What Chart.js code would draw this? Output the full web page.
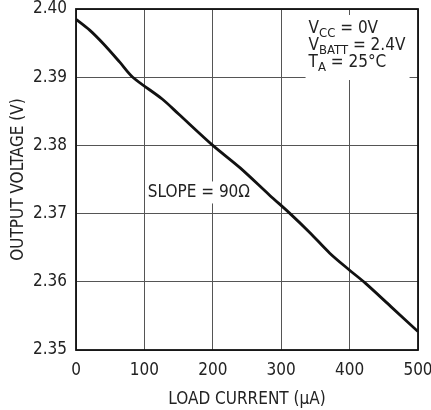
<!DOCTYPE html>
<html>
<head>
<meta charset="utf-8">
<script src="https://cdn.jsdelivr.net/npm/chart.js@4/dist/chart.umd.min.js"></script>
<style>
  html, body { margin: 0; padding: 0; background: #fff; }
  #wrap { width: 431px; height: 410px; }
</style>
</head>
<body>
<div id="wrap"><canvas id="c" width="431" height="410"></canvas></div>
<script>
const FONT = "'Liberation Sans Narrow', 'DejaVu Sans Condensed', 'Liberation Sans', sans-serif";

// values
const loadCurrent = [0, 20, 40, 64, 83, 126, 150, 200, 240, 283, 313, 342, 371, 400, 423, 460, 500];
const outputVolts = [2.3985, 2.3969, 2.3949, 2.3922, 2.3900, 2.3868, 2.3846, 2.3800, 2.3767, 2.3727, 2.3700, 2.3672, 2.3642, 2.3617, 2.3598, 2.3564, 2.3527];
const xTicks = [0, 100, 200, 300, 400, 500];
const yTicks = [2.35, 2.36, 2.37, 2.38, 2.39, 2.40];

// annotation text: [x, y, main, subscript, rest]
const condNotes = [
  [340, 2.3965, "V", "CC", " = 0V"],
  [340, 2.3940, "V", "BATT", " = 2.4V"],
  [340, 2.3915, "T", "A", " = 25°C"],
];
const slopeNote = [105, 2.3731, "SLOPE = 90Ω"];

const fixTicks = (arr) => (scale) => { scale.ticks = arr.map(v => ({ value: v })); };

const notesPlugin = {
  id: "notes",
  beforeDatasetsDraw(chart) {
    const { ctx, scales: { x, y } } = chart;
    ctx.save();
    ctx.textBaseline = "alphabetic";
    const big = "17px " + FONT, small = "13px " + FONT;

    // white box behind conditions block
    const x0 = x.getPixelForValue(condNotes[0][0]);
    ctx.fillStyle = "#fff";
    ctx.fillRect(x0 - 3, 15, 104, 65);

    condNotes.forEach(([vx, vy, main, sub, rest]) => {
      let px = x.getPixelForValue(vx);
      const py = y.getPixelForValue(vy);
      ctx.fillStyle = "#222";
      ctx.font = big;
      ctx.fillText(main, px, py);
      px += ctx.measureText(main).width;
      ctx.font = small;
      ctx.fillText(sub, px, py + 4);
      px += ctx.measureText(sub).width;
      ctx.font = big;
      ctx.fillText(rest, px, py);
    });

    // slope note
    ctx.font = big;
    const sx = x.getPixelForValue(slopeNote[0]);
    const sy = y.getPixelForValue(slopeNote[1]);
    const w = ctx.measureText(slopeNote[2]).width;
    ctx.fillStyle = "#fff";
    ctx.fillRect(sx - 2, sy - 11, w + 4, 22);
    ctx.fillStyle = "#222";
    ctx.textBaseline = "middle";
    ctx.fillText(slopeNote[2], sx, sy);
    ctx.restore();
  },
  afterDatasetsDraw(chart) {
    const { ctx, chartArea: a } = chart;
    ctx.save();
    ctx.strokeStyle = "#111";
    ctx.lineWidth = 1.8;
    ctx.strokeRect(a.left, a.top, a.right - a.left, a.bottom - a.top);
    ctx.restore();
  }
};

new Chart(document.getElementById("c"), {
  type: "line",
  data: {
    datasets: [{
      data: loadCurrent.map((v, i) => ({ x: v, y: outputVolts[i] })),
      borderColor: "#111",
      borderWidth: 2.8,
      pointRadius: 0,
      tension: 0.3,
      fill: false,
    }]
  },
  options: {
    responsive: false,
    animation: false,
    devicePixelRatio: 1,
    layout: { padding: 0 },
    plugins: { legend: { display: false }, tooltip: { enabled: false } },
    scales: {
      x: {
        type: "linear",
        min: 0, max: 500,
        afterBuildTicks: fixTicks(xTicks),
        afterFit: (s) => { s.height = 60; s.paddingLeft = 0; s.paddingRight = 13; },
        grid: { color: "#555", lineWidth: 1, drawTicks: false },
        border: { display: false },
        ticks: { color: "#222", font: { family: FONT, size: 17 }, padding: 10, maxRotation: 0 },
        title: { display: true, text: "LOAD CURRENT (µA)", color: "#222", font: { family: FONT, size: 17 }, padding: { top: 4, bottom: 0 } },
      },
      y: {
        type: "linear",
        min: 2.35, max: 2.40,
        afterBuildTicks: fixTicks(yTicks),
        afterFit: (s) => { s.width = 76; s.paddingTop = 9; s.paddingBottom = 0; },
        grid: { color: "#555", lineWidth: 1, drawTicks: false },
        border: { display: false },
        ticks: { color: "#222", font: { family: FONT, size: 17 }, padding: 9, callback: (v) => v.toFixed(2) },
        title: { display: true, text: "OUTPUT VOLTAGE (V)", color: "#222", font: { family: FONT, size: 17 }, padding: { top: 8, bottom: 4 } },
      },
    },
  },
  plugins: [notesPlugin],
});
</script>
</body>
</html>
